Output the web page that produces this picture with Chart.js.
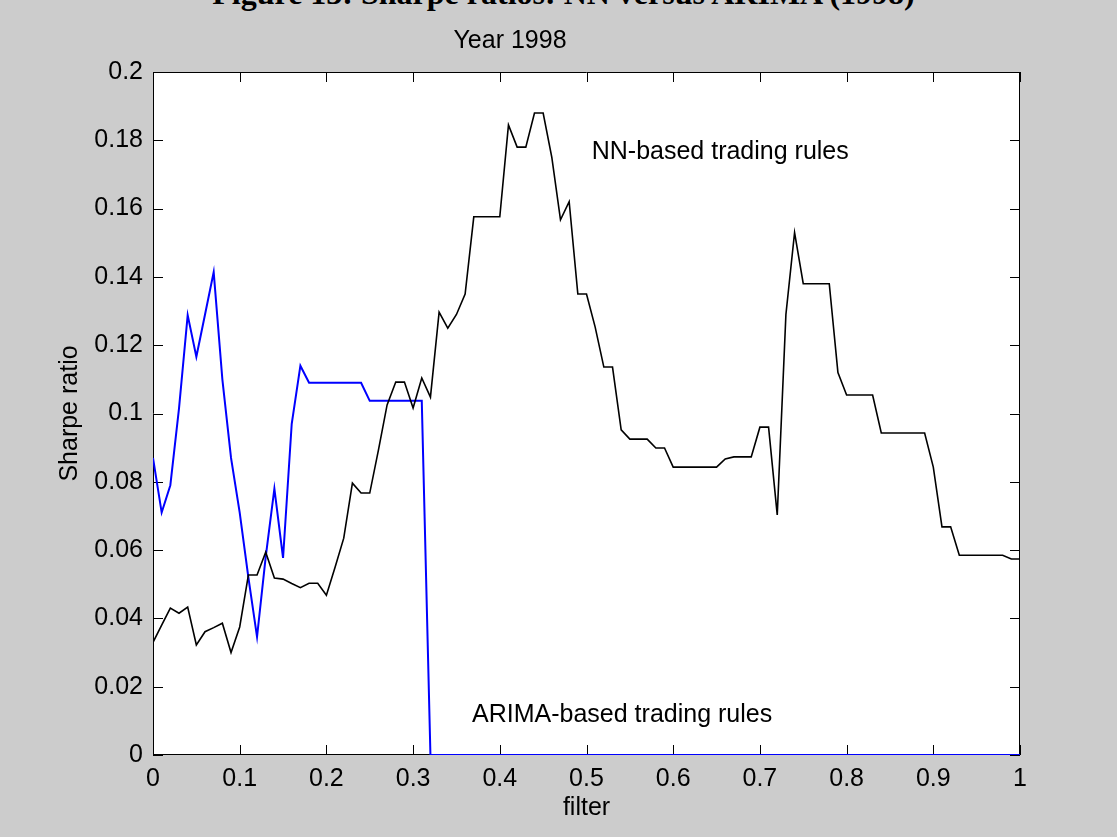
<!DOCTYPE html>
<html>
<head>
<meta charset="utf-8">
<title>Sharpe ratios 1998</title>
<script src="https://cdn.jsdelivr.net/npm/chart.js@4/dist/chart.umd.min.js"></script>
<style>
    html, body { margin: 0; padding: 0; background: #cccccc; }
    #wrap { position: relative; width: 1117px; height: 837px; overflow: hidden; }
    #figTitle {
        position: absolute; left: 5px; top: -23px; width: 1117px;
        text-align: center; font: bold 32px "Liberation Serif", "Times New Roman", serif;
        line-height: 32px; color: #000; white-space: nowrap;
    }
    canvas { position: absolute; left: 0; top: 0; }
</style>
</head>
<body>
<div id="wrap">
    <div id="figTitle">Figure 13: Sharpe ratios: NN versus ARIMA (1998)</div>
    <canvas id="sharpeChart" width="1117" height="837"></canvas>
</div>
<script>
// filter values (x axis)
const filterValues = [
    0, 0.01, 0.02, 0.03, 0.04, 0.05, 0.06, 0.07, 0.08, 0.09,
    0.1, 0.11, 0.12, 0.13, 0.14, 0.15, 0.16, 0.17, 0.18, 0.19,
    0.2, 0.21, 0.22, 0.23, 0.24, 0.25, 0.26, 0.27, 0.28, 0.29,
    0.3, 0.31, 0.32, 0.33, 0.34, 0.35, 0.36, 0.37, 0.38, 0.39,
    0.4, 0.41, 0.42, 0.43, 0.44, 0.45, 0.46, 0.47, 0.48, 0.49,
    0.5, 0.51, 0.52, 0.53, 0.54, 0.55, 0.56, 0.57, 0.58, 0.59,
    0.6, 0.61, 0.62, 0.63, 0.64, 0.65, 0.66, 0.67, 0.68, 0.69,
    0.7, 0.71, 0.72, 0.73, 0.74, 0.75, 0.76, 0.77, 0.78, 0.79,
    0.8, 0.81, 0.82, 0.83, 0.84, 0.85, 0.86, 0.87, 0.88, 0.89,
    0.9, 0.91, 0.92, 0.93, 0.94, 0.95, 0.96, 0.97, 0.98, 0.99,
    1
];

// Sharpe ratio, NN-based trading rules
const nnSharpe = [
    0.033, 0.038, 0.043, 0.0415, 0.0433, 0.0322, 0.0361, 0.0373, 0.0386, 0.030,
    0.0375, 0.0527, 0.0527, 0.0594, 0.0518, 0.0515, 0.0502, 0.049, 0.0503, 0.0503,
    0.0468, 0.055, 0.0635, 0.0796, 0.0767, 0.0767, 0.0893, 0.1025, 0.1092, 0.1092,
    0.1016, 0.1104, 0.1048, 0.1297, 0.125, 0.129, 0.135, 0.1576, 0.1576, 0.1576,
    0.1576, 0.1845, 0.178, 0.178, 0.188, 0.188, 0.175, 0.1567, 0.162, 0.135,
    0.135, 0.1253, 0.1136, 0.1136, 0.0952, 0.0925, 0.0925, 0.0925, 0.0899, 0.0899,
    0.0843, 0.0843, 0.0843, 0.0843, 0.0843, 0.0843, 0.0867, 0.0873, 0.0873, 0.0873,
    0.096, 0.096, 0.0703, 0.129, 0.153, 0.138, 0.138, 0.138, 0.138, 0.112,
    0.1054, 0.1054, 0.1054, 0.1054, 0.0943, 0.0943, 0.0943, 0.0943, 0.0943, 0.0943,
    0.0843, 0.0668, 0.0668, 0.0585, 0.0585, 0.0585, 0.0585, 0.0585, 0.0585, 0.0574,
    0.0574
];

// Sharpe ratio, ARIMA-based trading rules
const arimaSharpe = [
    0.087, 0.071, 0.079, 0.1015, 0.1288, 0.1166, 0.129, 0.1414, 0.110, 0.087,
    0.071, 0.052, 0.0346, 0.058, 0.078, 0.0577, 0.097, 0.114, 0.109, 0.109,
    0.109, 0.109, 0.109, 0.109, 0.109, 0.1037, 0.1037, 0.1037, 0.1037, 0.1037,
    0.1037, 0.1037, 0, 0, 0, 0, 0, 0, 0, 0,
    0, 0, 0, 0, 0, 0, 0, 0, 0, 0,
    0, 0, 0, 0, 0, 0, 0, 0, 0, 0,
    0, 0, 0, 0, 0, 0, 0, 0, 0, 0,
    0, 0, 0, 0, 0, 0, 0, 0, 0, 0,
    0, 0, 0, 0, 0, 0, 0, 0, 0, 0,
    0, 0, 0, 0, 0, 0, 0, 0, 0, 0,
    0
];

const xTicks = [0, 0.1, 0.2, 0.3, 0.4, 0.5, 0.6, 0.7, 0.8, 0.9, 1];
const xTickLabels = ['0', '0.1', '0.2', '0.3', '0.4', '0.5', '0.6', '0.7', '0.8', '0.9', '1'];
const yTicks = [0, 0.02, 0.04, 0.06, 0.08, 0.1, 0.12, 0.14, 0.16, 0.18, 0.2];
const yTickLabels = ['0', '0.02', '0.04', '0.06', '0.08', '0.1', '0.12', '0.14', '0.16', '0.18', '0.2'];

const FONT = '"Liberation Sans", Arial, Helvetica, sans-serif';

// text labels inside the axes, in data units
const notes = [
    { text: 'NN-based trading rules', x: 0.506, y: 0.1765 },
    { text: 'ARIMA-based trading rules', x: 0.368, y: 0.0117 }
];

// white axes box, inward ticks on all four sides, and the in-plot notes
const matlabAxes = {
    id: 'matlabAxes',
    beforeDraw(chart) {
        const { ctx, chartArea: a } = chart;
        ctx.save();
        ctx.fillStyle = '#ffffff';
        ctx.fillRect(a.left, a.top, a.right - a.left, a.bottom - a.top);
        ctx.restore();
    },
    beforeDatasetsDraw(chart) {
        const { ctx, chartArea: a, scales } = chart;
        const len = 10;
        ctx.save();
        ctx.strokeStyle = '#000000';
        ctx.lineWidth = 1;
        ctx.beginPath();
        ctx.rect(a.left + 0.5, a.top + 0.5, a.right - a.left - 1, a.bottom - a.top - 1);
        xTicks.forEach(v => {
            const px = Math.round(scales.x.getPixelForValue(v)) + 0.5;
            ctx.moveTo(px, a.bottom);
            ctx.lineTo(px, a.bottom - len);
            ctx.moveTo(px, a.top);
            ctx.lineTo(px, a.top + len);
        });
        yTicks.forEach(v => {
            const py = Math.round(scales.y.getPixelForValue(v)) + 0.5;
            ctx.moveTo(a.left, py);
            ctx.lineTo(a.left + len, py);
            ctx.moveTo(a.right, py);
            ctx.lineTo(a.right - len, py);
        });
        ctx.stroke();
        ctx.restore();
    },
    afterDatasetsDraw(chart) {
        const { ctx, scales } = chart;
        ctx.save();
        ctx.font = '25px ' + FONT;
        ctx.fillStyle = '#000000';
        ctx.textAlign = 'left';
        ctx.textBaseline = 'middle';
        notes.forEach(n => {
            ctx.fillText(n.text, scales.x.getPixelForValue(n.x), scales.y.getPixelForValue(n.y));
        });
        ctx.restore();
    }
};

function toPoints(ys) {
    return filterValues.map((x, i) => ({ x: x, y: ys[i] }));
}

const ctx = document.getElementById('sharpeChart').getContext('2d');
new Chart(ctx, {
    type: 'line',
    data: {
        datasets: [
            {
                label: 'NN-based trading rules',
                data: toPoints(nnSharpe),
                borderColor: '#000000',
                borderWidth: 1.6,
                pointRadius: 0,
                tension: 0,
                fill: false
            },
            {
                label: 'ARIMA-based trading rules',
                data: toPoints(arimaSharpe),
                borderColor: '#0000ff',
                borderWidth: 2,
                pointRadius: 0,
                tension: 0,
                fill: false
            }
        ]
    },
    options: {
        responsive: false,
        animation: false,
        devicePixelRatio: 1,
        layout: { padding: { left: 0, right: 97, top: 0, bottom: 0 } },
        plugins: {
            legend: { display: false },
            tooltip: { enabled: false },
            title: {
                display: true,
                text: 'Year 1998',
                color: '#000000',
                font: { family: FONT, size: 25, weight: 'normal' },
                padding: { top: 26.5, bottom: 15.5 }
            }
        },
        scales: {
            x: {
                type: 'linear',
                min: 0,
                max: 1,
                grid: { display: false, drawTicks: false },
                border: { display: false },
                afterBuildTicks: s => { s.ticks = xTicks.map(v => ({ value: v })); },
                afterFit: s => { s.height = 82; },
                ticks: {
                    color: '#000000',
                    padding: 9,
                    maxRotation: 0,
                    autoSkip: false,
                    font: { family: FONT, size: 25 },
                    callback: (v, i) => xTickLabels[i]
                },
                title: {
                    display: true,
                    text: 'filter',
                    color: '#000000',
                    font: { family: FONT, size: 25 },
                    padding: { top: 0, bottom: 14 }
                }
            },
            y: {
                type: 'linear',
                min: 0,
                max: 0.2,
                grid: { display: false, drawTicks: false },
                border: { display: false },
                afterBuildTicks: s => { s.ticks = yTicks.map(v => ({ value: v })); },
                afterFit: s => { s.width = 153; },
                ticks: {
                    color: '#000000',
                    padding: 10,
                    autoSkip: false,
                    font: { family: FONT, size: 25 },
                    callback: (v, i) => yTickLabels[i]
                },
                title: {
                    display: true,
                    text: 'Sharpe ratio',
                    color: '#000000',
                    font: { family: FONT, size: 25 },
                    padding: { top: 55, bottom: 0 }
                }
            }
        }
    },
    plugins: [matlabAxes]
});
</script>
</body>
</html>
